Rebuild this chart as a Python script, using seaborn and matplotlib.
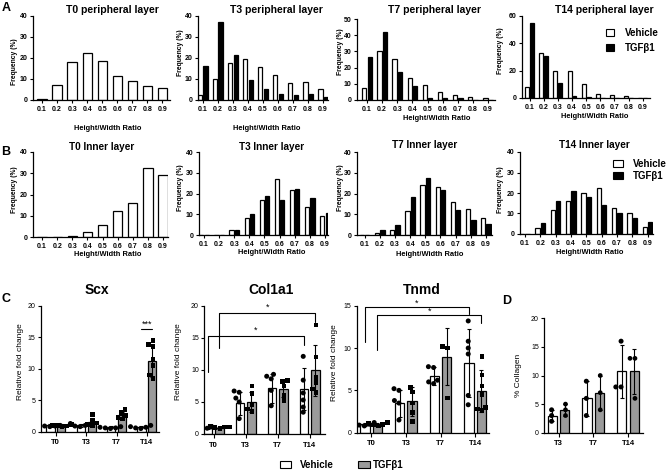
import numpy as np
import pandas as pd
import matplotlib
matplotlib.use("Agg")
import matplotlib.pyplot as plt
import seaborn as sns
from matplotlib.patches import Patch

# ---------------- data ----------------
ratio_labels = ["0.1", "0.2", "0.3", "0.4", "0.5", "0.6", "0.7", "0.8", "0.9"]
groups = ["Vehicle", "TGFβ1"]
times_c = ["T0", "T3", "T7", "T14"]
times_d = ["T3", "T7", "T14"]

# Panel A: peripheral layer frequency (%)
t0_peri_veh = [0.3, 7.0, 18.0, 22.2, 18.7, 11.3, 9.0, 6.5, 5.5]
t3_peri_veh = [2.5, 10.0, 17.5, 19.5, 15.5, 12.0, 8.0, 8.5, 5.0]
t3_peri_tgf = [16.0, 37.0, 21.5, 9.5, 5.0, 3.0, 2.5, 3.0, 1.5]
t7_peri_veh = [7.5, 30.0, 25.5, 13.5, 9.0, 5.0, 3.0, 2.0, 1.5]
t7_peri_tgf = [26.5, 42.0, 17.0, 8.5, 1.0, 1.0, 1.0, 0.3, 0.0]
t14_peri_veh = [8.0, 33.0, 19.5, 19.5, 10.0, 3.0, 2.0, 1.5, 0.3]
t14_peri_tgf = [55.0, 30.5, 11.0, 1.5, 0.5, 0.0, 0.0, 0.0, 0.0]

# Panel B: inner layer frequency (%)
t0_inner_veh = [0.0, 0.0, 0.5, 2.5, 5.5, 12.3, 16.0, 32.5, 29.0]
t3_inner_veh = [0.0, 0.0, 2.3, 8.3, 17.0, 27.0, 21.5, 13.5, 9.0]
t3_inner_tgf = [0.0, 0.2, 2.2, 10.0, 19.0, 17.0, 22.0, 17.8, 10.5]
t7_inner_veh = [0.0, 0.8, 2.5, 11.5, 24.0, 23.0, 16.0, 12.5, 8.0]
t7_inner_tgf = [0.0, 2.3, 4.8, 18.5, 27.3, 21.5, 12.0, 7.3, 5.2]
t14_inner_veh = [0.0, 3.0, 11.5, 16.0, 20.0, 22.5, 12.5, 10.2, 3.3]
t14_inner_tgf = [0.0, 5.5, 16.0, 21.0, 18.0, 14.0, 10.0, 8.0, 6.0]

# Panel C: relative fold change (mean, SD, replicates)
scx_veh_mean = [1.0, 1.0, 0.7, 0.75]
scx_veh_sd = [0.15, 0.25, 0.15, 0.2]
scx_tgf_mean = [1.0, 1.6, 2.6, 11.2]
scx_tgf_sd = [0.15, 0.6, 0.6, 2.5]
scx_veh_pts = [[0.9, 1.0, 1.1, 0.8, 1.0, 0.9], [1.3, 1.0, 0.9, 1.1, 0.8],
               [0.8, 0.6, 0.7, 0.6, 0.5], [1.0, 0.8, 0.7, 0.6, 0.5]]
scx_tgf_pts = [[1.1, 1.0, 0.9, 0.8, 1.0], [2.7, 1.8, 1.4, 1.2, 1.0],
               [3.5, 3.0, 2.6, 2.3, 2.0], [14.5, 13.8, 13.5, 11.5, 10.5, 9.0, 8.5]]

col_veh_mean = [1.0, 4.8, 7.1, 7.0]
col_veh_sd = [0.15, 1.8, 2.2, 3.3]
col_tgf_mean = [1.0, 5.0, 7.0, 9.9]
col_tgf_sd = [0.15, 1.5, 1.3, 4.0]
col_veh_pts = [[1.0, 1.1, 1.2, 0.9], [6.7, 6.5, 5.6, 5.0, 2.4],
               [9.3, 9.0, 8.6, 6.8, 4.4], [12.1, 8.4, 6.4, 5.3, 4.2, 3.4]]
col_tgf_pts = [[1.0, 1.1, 1.2, 0.9, 1.1], [7.5, 6.3, 4.6, 3.9, 3.5],
               [8.3, 8.2, 7.5, 6.0, 5.2], [17.0, 12.0, 8.8, 8.0, 7.0, 6.5]]

tnmd_veh_mean = [1.0, 3.5, 6.7, 8.2]
tnmd_veh_sd = [0.15, 1.6, 1.1, 4.0]
tnmd_tgf_mean = [1.0, 3.7, 9.0, 4.9]
tnmd_tgf_sd = [0.15, 1.7, 3.4, 2.5]
tnmd_veh_pts = [[0.8, 1.0, 1.1, 1.2, 0.9], [5.2, 5.0, 3.8, 3.5, 1.5],
                [7.8, 7.7, 6.2, 6.0, 5.8], [13.2, 10.8, 10.0, 9.3, 4.4, 3.3]]
tnmd_tgf_pts = [[1.0, 1.1, 1.2, 0.9, 0.8], [5.3, 4.8, 3.5, 2.4, 1.3],
                [10.2, 10.0, 4.1], [9.0, 6.8, 5.5, 4.5, 3.0, 2.8, 2.6]]

# Panel D: % collagen
coll_veh_mean = [3.0, 6.0, 10.7]
coll_veh_sd = [1.0, 3.0, 4.6]
coll_tgf_mean = [4.0, 7.0, 10.7]
coll_tgf_sd = [1.0, 3.0, 4.0]
coll_veh_pts = [[4, 3, 2], [9, 6, 3], [16, 8, 8]]
coll_tgf_pts = [[5, 4, 3], [10, 7, 4], [13, 13, 6]]

# ---------------- style ----------------
sns.set_style("ticks")
plt.rcParams["font.family"] = ["Liberation Sans", "DejaVu Sans"]
plt.rcParams.update({
    "axes.edgecolor": "black", "xtick.color": "black", "ytick.color": "black",
    "text.color": "black", "axes.labelcolor": "black", "axes.linewidth": 0.9,
})

W, H = 668, 474
fig = plt.figure(figsize=(W / 100, H / 100), dpi=100)
GREY = "#9b9b9b"


def px_ax(x0, x1, ytop, ybot):
    return fig.add_axes([x0 / W, 1 - ybot / H, (x1 - x0) / W, (ybot - ytop) / H])


def fxy(px, py):
    return px / W, 1 - py / H


def dist_panel(box, xlim, ymax, yticks, title, title_xy, xlabel_xy, ylabel_xy,
               veh, tgf=None, title_fs=7.5):
    ax = px_ax(*box)
    if tgf is None:
        sns.barplot(x=ratio_labels, y=veh, color="white", edgecolor="black",
                    linewidth=0.9, width=0.62, saturation=1, errorbar=None, ax=ax)
    else:
        df = pd.DataFrame({"ratio": ratio_labels * 2,
                           "freq": list(veh) + list(tgf),
                           "group": [groups[0]] * len(veh) + [groups[1]] * len(tgf)})
        sns.barplot(data=df, x="ratio", y="freq", hue="group", hue_order=groups,
                    palette={groups[0]: "white", groups[1]: "black"},
                    edgecolor="black", linewidth=0.9, width=0.7, gap=0.2,
                    saturation=1, errorbar=None, legend=False, ax=ax)
    ax.set_xlim(*xlim)
    ax.set_ylim(0, ymax)
    ax.set_xticks(range(len(ratio_labels)), ratio_labels, fontsize=5, fontweight="bold")
    ax.set_yticks(yticks, [str(t) for t in yticks], fontsize=5, fontweight="bold")
    ax.tick_params(length=2.5, width=0.8, pad=1.5)
    sns.despine(ax=ax)
    ax.set_xlabel("Height/Width Ratio", fontsize=5.4, fontweight="bold", va="center")
    ax.xaxis.set_label_coords(*fxy(*xlabel_xy), transform=fig.transFigure)
    ax.set_ylabel("Frequency (%)", fontsize=4.9, fontweight="bold", va="center")
    ax.yaxis.set_label_coords(*fxy(*ylabel_xy), transform=fig.transFigure)
    fig.text(*fxy(*title_xy), title, fontsize=title_fs, fontweight="bold",
             ha="center", va="center")
    return ax


def long_points(times, pts, grp):
    rows = []
    for t, vals in zip(times, pts):
        rows += [(t, grp, v) for v in vals]
    return pd.DataFrame(rows, columns=["time", "group", "value"])


def gene_panel(box, xlim, ymax, yticks, title, title_xy, ylabel, ylabel_xy, times,
               veh_mean, veh_sd, tgf_mean, tgf_sd, veh_pts, tgf_pts, tgf_marker="s"):
    ax = px_ax(*box)
    bars = pd.DataFrame({"time": times * 2, "value": list(veh_mean) + list(tgf_mean),
                         "group": [groups[0]] * len(times) + [groups[1]] * len(times)})
    sns.barplot(data=bars, x="time", y="value", hue="group", order=times, hue_order=groups,
                palette={groups[0]: "white", groups[1]: GREY}, edgecolor="black",
                linewidth=0.9, width=0.72, gap=0.25, saturation=1, errorbar=None,
                legend=False, ax=ax)
    centers = sorted(p.get_x() + p.get_width() / 2 for p in ax.patches)
    for xs, m, s in ((centers[0::2], veh_mean, veh_sd), (centers[1::2], tgf_mean, tgf_sd)):
        ax.errorbar(xs, m, yerr=s, fmt="none", ecolor="black", elinewidth=0.8,
                    capsize=1.6, capthick=0.8, zorder=3)
    pal = {g: "black" for g in groups}
    sns.swarmplot(data=long_points(times, veh_pts, groups[0]), x="time", y="value",
                  hue="group", order=times, hue_order=groups, dodge=True, palette=pal,
                  marker="o", size=3.6, linewidth=0, legend=False, ax=ax, zorder=4)
    sns.swarmplot(data=long_points(times, tgf_pts, groups[1]), x="time", y="value",
                  hue="group", order=times, hue_order=groups, dodge=True, palette=pal,
                  marker=tgf_marker, size=3.4, linewidth=0, legend=False, ax=ax, zorder=4)
    ax.set_xlim(*xlim)
    ax.set_ylim(0, ymax)
    ax.set_xticks(range(len(times)), times, fontsize=5.5, fontweight="bold")
    ax.set_yticks(yticks, [str(t) for t in yticks], fontsize=5)
    ax.tick_params(axis="y", length=2.5, width=0.8, pad=1.5)
    ax.tick_params(axis="x", length=3, width=0.8, pad=2.5)
    sns.despine(ax=ax)
    ax.set_xlabel("")
    ax.set_ylabel(ylabel, fontsize=6, va="center")
    ax.yaxis.set_label_coords(*fxy(*ylabel_xy), transform=fig.transFigure)
    if title:
        fig.text(*fxy(*title_xy), title, fontsize=10, fontweight="bold",
                 ha="center", va="center")
    return ax, centers


def bracket(ax, xa, xb, y, ya, yb, label, label_y):
    ax.plot([xa, xa, xb, xb], [ya, y, y, yb], color="black", lw=0.8,
            clip_on=False, zorder=5)
    ax.text((xa + xb) / 2, label_y, label, ha="center", va="center",
            fontsize=6.5, clip_on=False)


# ---------------- Panel A ----------------
dist_panel((33, 170, 15.7, 100), (-0.6, 8.5), 40, [0, 10, 20, 30, 40],
           "T0 peripheral layer", (112, 10), (108, 128), (15, 62), t0_peri_veh)
dist_panel((198, 328, 15.7, 100), (-0.33, 8.33), 40, [0, 10, 20, 30, 40],
           "T3 peripheral layer", (276, 10), (267, 128), (180, 53), t3_peri_veh, t3_peri_tgf)
dist_panel((357, 495, 19, 100), (-0.66, 8.46), 50, [0, 10, 20, 30, 40, 50],
           "T7 peripheral layer", (434, 10), (437, 118), (340, 52), t7_peri_veh, t7_peri_tgf)
dist_panel((522, 650, 15.7, 98), (-0.54, 8.52), 60, [0, 20, 40, 60],
           "T14 peripheral layer", (604, 10), (595, 117), (500, 51), t14_peri_veh, t14_peri_tgf)

# ---------------- Panel B ----------------
dist_panel((33, 168, 152, 237), (-0.6, 8.33), 40, [0, 10, 20, 30, 40],
           "T0 Inner layer", (102, 147), (108, 255), (15, 190), t0_inner_veh, title_fs=7.2)
dist_panel((199, 328, 152, 235), (-0.33, 8.2), 40, [0, 10, 20, 30, 40],
           "T3 Inner layer", (272, 147), (272, 253), (180, 188), t3_inner_veh, t3_inner_tgf,
           title_fs=7.2)
dist_panel((357, 492, 152, 235), (-0.5, 8.4), 40, [0, 10, 20, 30, 40],
           "T7 Inner layer", (425, 145), (430, 255), (340, 188), t7_inner_veh, t7_inner_tgf,
           title_fs=7.2)
dist_panel((520, 653, 152, 234), (-0.32, 8.35), 40, [0, 10, 20, 30, 40],
           "T14 Inner layer", (594, 145), (590, 253), (500, 190), t14_inner_veh, t14_inner_tgf,
           title_fs=7.2)

leg_prop = {"weight": "bold", "size": 7}
ab_handles = [Patch(facecolor="white", edgecolor="black", linewidth=0.8),
              Patch(facecolor="black", edgecolor="black", linewidth=0.8)]
fig.legend(ab_handles, groups, loc="center left", bbox_to_anchor=fxy(606, 40.5),
           frameon=False, prop=leg_prop, handlelength=0.8, handleheight=0.7,
           handletextpad=1.1, labelspacing=0.55, borderpad=0, borderaxespad=0)
fig.legend(ab_handles, groups, loc="center left", bbox_to_anchor=fxy(613, 170),
           frameon=False, prop=leg_prop, handlelength=1.0, handleheight=0.75,
           handletextpad=1.0, labelspacing=0.25, borderpad=0, borderaxespad=0)

# ---------------- Panel C ----------------
ax_scx, cx = gene_panel((40.7, 159, 305.7, 431.7), (-0.5, 3.4), 20, [0, 5, 10, 15, 20],
                        "Scx", (97, 290), "Relative fold change", (21, 362), times_c,
                        scx_veh_mean, scx_veh_sd, scx_tgf_mean, scx_tgf_sd,
                        scx_veh_pts, scx_tgf_pts)
ax_scx.plot([cx[6], cx[7]], [16.3, 16.3], color="black", lw=0.8, zorder=5)
ax_scx.text((cx[6] + cx[7]) / 2, 17.0, "***", ha="center", va="center", fontsize=6.5)

ax_col, cx = gene_panel((204.3, 325, 305.7, 434), (-0.29, 3.48), 20, [0, 5, 10, 15, 20],
                        "Col1a1", (271, 290), "Relative fold change", (179, 362), times_c,
                        col_veh_mean, col_veh_sd, col_tgf_mean, col_tgf_sd,
                        col_veh_pts, col_tgf_pts)
bracket(ax_col, cx[0], cx[6], 15.2, 9.6, 13.8, "*", 16.2)
bracket(ax_col, cx[1], cx[7], 18.8, 13.4, 17.5, "*", 19.8)

ax_tn, cx = gene_panel((356.7, 489, 305.7, 432.7), (-0.42, 3.4), 15, [0, 5, 10, 15],
                       "Tnmd", (422, 290), "Relative fold change", (335, 363), times_c,
                       tnmd_veh_mean, tnmd_veh_sd, tnmd_tgf_mean, tnmd_tgf_sd,
                       tnmd_veh_pts, tnmd_tgf_pts)
bracket(ax_tn, cx[0], cx[6], 14.8, 10.7, 14.0, "*", 15.3)
bracket(ax_tn, cx[1], cx[7], 13.9, 9.8, 13.0, "*", 14.4)

# ---------------- Panel D ----------------
gene_panel((544.3, 643.3, 318.3, 432.7), (-0.41, 2.44), 20, [0, 5, 10, 15, 20],
           None, None, "% Collagen", (519, 375), times_d,
           coll_veh_mean, coll_veh_sd, coll_tgf_mean, coll_tgf_sd,
           coll_veh_pts, coll_tgf_pts, tgf_marker="o")

# bottom legend
fig.legend([Patch(facecolor="white", edgecolor="black", linewidth=0.8)], [groups[0]],
           loc="center left", bbox_to_anchor=fxy(280, 465), frameon=False, prop=leg_prop,
           handlelength=1.15, handleheight=0.8, handletextpad=0.9,
           borderpad=0, borderaxespad=0)
fig.legend([Patch(facecolor=GREY, edgecolor="black", linewidth=0.8)], [groups[1]],
           loc="center left", bbox_to_anchor=fxy(358, 465), frameon=False, prop=leg_prop,
           handlelength=1.2, handleheight=0.8, handletextpad=0.3,
           borderpad=0, borderaxespad=0)

# panel letters
for letter, (lx, ly) in zip("ABCD", [(6, 8), (6, 152), (6, 299), (507, 301)]):
    fig.text(*fxy(lx, ly), letter, fontsize=9, fontweight="bold", ha="center", va="center")

fig.savefig("out.png", dpi=100)
